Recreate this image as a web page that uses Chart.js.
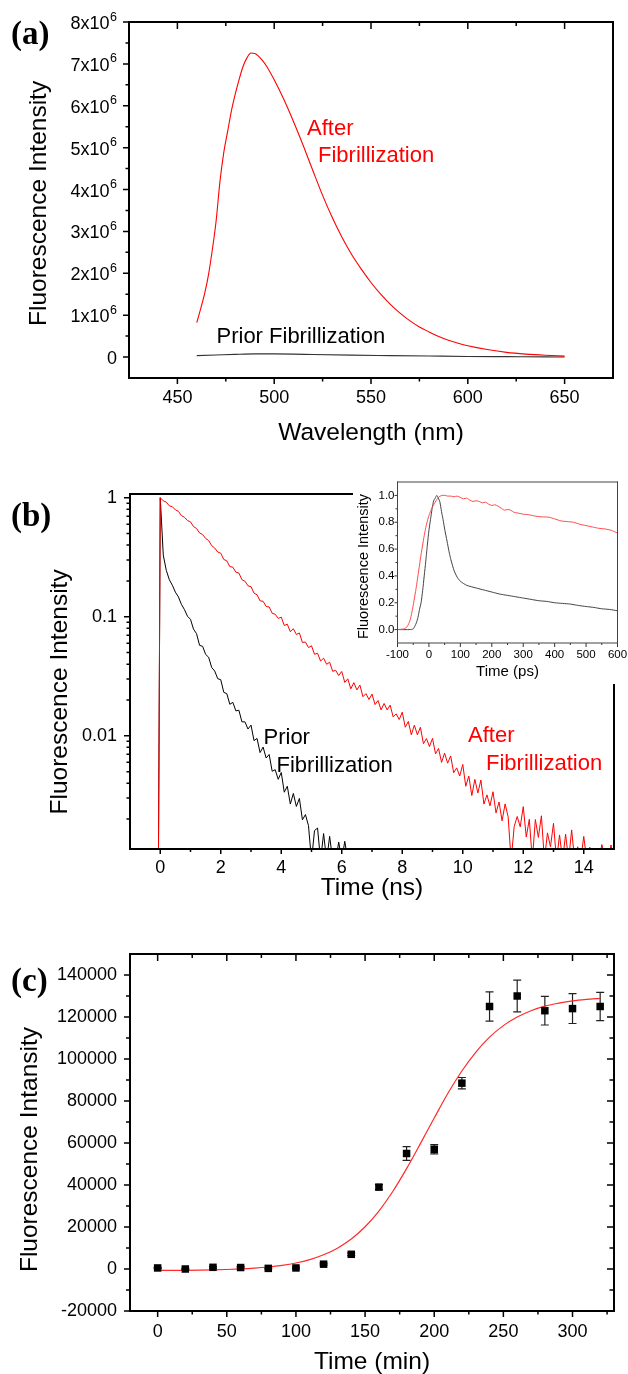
<!DOCTYPE html>
<html><head><meta charset="utf-8">
<script src="https://cdn.jsdelivr.net/npm/chart.js"></script>
<style>
html,body{margin:0;padding:0;background:#fff;width:628px;height:1374px;overflow:hidden;}
canvas{position:absolute;}
</style></head><body>
<canvas id="ca" width="628" height="460" style="left:0;top:0"></canvas>
<canvas id="cb" width="628" height="430" style="left:0;top:470px"></canvas>
<canvas id="ci" width="278" height="212" style="left:350px;top:474px"></canvas>
<canvas id="cc" width="628" height="444" style="left:0;top:930px"></canvas>
<script>
// ---------- (a) emission spectra ----------
const spectrumAfterWavelength = [460,462,464,466,468,470,472,474,476,478,480,482,484,486,488,490,492,494,496,500,505,510,515,520,525,530,535,540,545,550,555,560,565,570,575,580,585,590,595,600,610,620,630,640,650];
const spectrumAfterIntensity = [820000,1150000,1500000,1950000,2550000,3250000,4200000,4900000,5400000,5900000,6300000,6650000,6950000,7150000,7260000,7250000,7180000,7080000,6950000,6620000,6150000,5620000,5050000,4450000,3860000,3330000,2860000,2450000,2100000,1780000,1500000,1260000,1050000,870000,720000,600000,490000,400000,330000,270000,180000,112000,70000,42000,22000];
const spectrumPriorWavelength = [460,470,480,490,500,510,520,540,560,580,600,620,640,650];
const spectrumPriorIntensity = [35000,50000,65000,75000,75000,70000,60000,45000,35000,25000,15000,10000,5000,0];
const spectrumWavelengthTicks = [450,500,550,600,650];
const spectrumIntensityTicks = [0,1000000,2000000,3000000,4000000,5000000,6000000,7000000,8000000];
const spectrumExponent = 6;

// ---------- (b) fluorescence decays ----------
const decayTime = [-0.06,0,0.1,0.2,0.3,0.4,0.5,0.6,0.7,0.8,0.9,1,1.1,1.2,1.3,1.4,1.5,1.6,1.7,1.8,1.9,2,2.1,2.2,2.3,2.4,2.5,2.6,2.7,2.8,2.9,3,3.1,3.2,3.3,3.4,3.5,3.6,3.7,3.8,3.9,4,4.1,4.2,4.3,4.4,4.5,4.6,4.7,4.8,4.9,5,5.1,5.2,5.3,5.4,5.5,5.6,5.7,5.8,5.9,6,6.1,6.2,6.3,6.4,6.5,6.6,6.7,6.8,6.9,7,7.1,7.2,7.3,7.4,7.5,7.6,7.7,7.8,7.9,8,8.1,8.2,8.3,8.4,8.5,8.6,8.7,8.8,8.9,9,9.1,9.2,9.3,9.4,9.5,9.6,9.7,9.8,9.9,10,10.1,10.2,10.3,10.4,10.5,10.6,10.7,10.8,10.9,11,11.1,11.2,11.3,11.4,11.5,11.6,11.7,11.8,11.9,12,12.1,12.2,12.3,12.4,12.5,12.6,12.7,12.8,12.9,13,13.1,13.2,13.3,13.4,13.5,13.6,13.7,13.8,13.9,14,14.1,14.2,14.3,14.4,14.5,14.6,14.7,14.8,14.9,15];
const afterDecayIntensity = [0.0009,1.0,
0.942,0.918,0.855,0.841,0.791,0.769,0.708,0.686,0.643,0.627,
0.573,0.551,0.506,0.491,0.455,0.437,0.396,0.378,0.350,0.342,
0.303,0.295,0.264,0.261,0.237,0.233,0.205,0.199,0.182,0.179,
0.158,0.153,0.136,0.135,0.122,0.121,0.107,0.105,0.0969,0.0993,
0.0845,0.0867,0.0748,0.0794,0.0710,0.0731,0.0608,0.0614,0.0551,0.0571,
0.0484,0.0494,0.0425,0.0449,0.0399,0.0415,0.0348,0.0355,0.0321,0.0347,
0.0281,0.0301,0.0248,0.0280,0.0243,0.0267,0.0213,0.0226,0.0202,0.0224,
0.0183,0.0198,0.0165,0.0187,0.0165,0.0181,0.0144,0.0153,0.0137,0.0158,
0.0118,0.0132,0.0102,0.0123,0.0102,0.0118,0.00859,0.00948,0.00812,0.00952,
0.00705,0.00783,0.00598,0.00716,0.00589,0.00678,0.00490,0.00538,0.00459,0.00575,
0.00377,0.00459,0.00315,0.00431,0.00331,0.00425,0.00267,0.00319,0.00258,0.00339,
0.00225,0.00278,0.00193,0.00268,0.00209,0.0009,0.00173,0.00210,0.00172,0.00254,
0.00141,0.00199,0.0009,0.00198,0.00140,0.00213,0.0009,0.00153,0.00117,0.00184,
0.0009,0.00147,0.0009,0.00149,0.0009,0.00162,0.0009,0.00117,0.0009,0.00143,
0.0009,0.00116,0.0009,0.0009,0.0009,0.00122,0.0009,0.0009,0.00121,0.0009];
const priorDecayIntensity = [0.0009,1.0,
0.33,0.245,0.205,0.184,0.161,0.147,0.127,0.115,0.101,0.0951,
0.0787,0.0721,0.0575,0.0565,0.0483,0.0457,0.0375,0.0350,0.0302,0.0296,
0.0232,0.0226,0.0184,0.0191,0.0162,0.0164,0.0131,0.0131,0.0114,0.0123,
0.00911,0.00951,0.00723,0.00804,0.00651,0.00697,0.00504,0.00519,0.00431,0.00492,
0.00336,0.00377,0.00267,0.00328,0.00255,0.00298,0.00197,0.00218,0.00176,0.0009,
0.0016,0.00168,0.0009,0.00151,0.0009,0.00143,0.0009,0.0009,0.00128,0.0009,
0.0013,0.0009];
const decayTimeTicks = [0,2,4,6,8,10,12,14];
const decayIntensityTicks = [0.01,0.1,1];

// ---------- (b) inset ----------
const insetPriorTime = [-100,-60,-50,-45,-40,-35,-30,-25,-20,-15,-10,-5,0,5,10,15,20,25,30,35,40,45,50,55,60,65,70,80,90,100,120,150,175,200,225,250,275,300,325,350,375,400,425,450,475,500,525,550,575,600];
const insetPriorIntensity = [0,0,0.005,0.025,0.05,0.09,0.15,0.2,0.29,0.4,0.51,0.63,0.74,0.82,0.9,0.96,0.98,1.0,0.98,0.95,0.88,0.82,0.75,0.69,0.63,0.57,0.52,0.44,0.39,0.36,0.33,0.31,0.295,0.28,0.265,0.255,0.245,0.235,0.225,0.215,0.21,0.2,0.195,0.19,0.18,0.172,0.165,0.155,0.15,0.14];
const insetAfterTime = [-100,-80,-70,-65,-60,-55,-50,-45,-40,-35,-30,-25,-20,-15,-10,-5,0,5,10,15,20,25,30,40,50,60,70,80,90,100,110,120,130,140,150,160,170,180,190,200,210,220,230,240,250,260,270,280,290,300,320,340,360,380,400,420,440,460,480,500,520,540,560,580,600];
const insetAfterIntensity = [0,0.005,0.02,0.04,0.07,0.12,0.18,0.25,0.32,0.4,0.48,0.56,0.63,0.7,0.76,0.81,0.85,0.88,0.91,0.93,0.95,0.97,0.985,1.0,1.0,0.995,0.995,0.99,0.995,0.985,0.975,0.98,0.965,0.955,0.96,0.955,0.945,0.95,0.935,0.925,0.93,0.92,0.905,0.89,0.895,0.89,0.875,0.87,0.865,0.86,0.855,0.845,0.84,0.838,0.825,0.81,0.805,0.8,0.785,0.775,0.765,0.755,0.75,0.74,0.72];
const insetTimeTicks = [-100,0,100,200,300,400,500,600];
const insetIntensityTicks = [0,0.2,0.4,0.6,0.8,1.0];

// ---------- (c) kinetics ----------
const kineticsTime = [0,20,40,60,80,100,120,140,160,180,200,220,240,260,280,300,320];
const kineticsIntensity = [500,0,800,700,300,500,2300,7000,39000,55000,57000,88500,125000,130000,123000,124000,125000];
const kineticsError = [300,300,400,400,300,400,500,600,1200,3300,2200,2700,7000,7600,6800,7100,6700];
const fitTime = [0,10,20,30,40,50,60,70,80,90,100,110,120,130,140,150,160,170,180,190,200,210,220,230,240,250,260,270,280,290,300,310,320];
const fitIntensity = [-700,-670,-620,-530,-410,-230,30,410,960,1740,2860,4470,6760,9930,14260,20130,27600,36900,47800,59700,71900,83800,94300,103200,110400,115900,120000,123000,125200,126600,127700,128400,128900];
const kineticsTimeTicks = [0,50,100,150,200,250,300];
const kineticsIntensityTicks = [-20000,0,20000,40000,60000,80000,100000,120000,140000];

// ---------- helpers ----------
const SANS = '"Liberation Sans", Arial, Helvetica, sans-serif';
const SERIF = '"Liberation Serif", "Times New Roman", serif';
Chart.defaults.font.family = SANS;
Chart.defaults.color = '#000';

function seq(a, b, s) { const r = []; for (let v = a; v <= b + s * 1e-6; v += s) r.push(Math.round(v * 1e6) / 1e6); return r; }
function pts(xs, ys) { return ys.map((y, i) => ({x: xs[i], y})); }

function axis(o) {
  return {
    type: o.type || 'linear', position: o.position, min: o.min, max: o.max,
    afterBuildTicks: s => { s.ticks = o.ticks.map(v => ({value: v})); },
    afterFit: s => {
      if (o.position === 'left') s.width = o.size; else s.height = o.size;
      s.paddingLeft = 0; s.paddingRight = 0; s.paddingTop = 0; s.paddingBottom = 0;
    },
    grid: {display: false, drawTicks: true, tickLength: o.tickLength},
    border: {display: false},
    ticks: {display: o.showLabels !== false, font: {size: o.fontSize}, padding: o.tickPad,
            autoSkip: false, maxRotation: 0, minRotation: 0, color: '#000', callback: o.format || (v => String(v))},
    title: {display: true, text: o.title, color: '#000', font: {size: o.titleSize, lineHeight: 1},
            padding: o.position === 'left' ? {top: o.titlePad, bottom: 0} : {top: 0, bottom: o.titlePad}}
  };
}

const decor = {
  id: 'decor',
  beforeDatasetsDraw(chart, args, o) {
    const eb = o.errorBars; if (!eb) return;
    const ctx = chart.ctx, xs = chart.scales.x, ys = chart.scales.y;
    ctx.save(); ctx.strokeStyle = eb.color; ctx.lineWidth = eb.width; ctx.beginPath();
    eb.x.forEach((xv, i) => {
      const px = xs.getPixelForValue(xv);
      const t = ys.getPixelForValue(eb.y[i] + eb.err[i]);
      const b = ys.getPixelForValue(eb.y[i] - eb.err[i]);
      ctx.moveTo(px, t); ctx.lineTo(px, b);
      ctx.moveTo(px - eb.cap / 2, t); ctx.lineTo(px + eb.cap / 2, t);
      ctx.moveTo(px - eb.cap / 2, b); ctx.lineTo(px + eb.cap / 2, b);
    });
    ctx.stroke(); ctx.restore();
  },
  afterDraw(chart, args, o) {
    const ctx = chart.ctx, a = chart.chartArea;
    ctx.save();
    ctx.strokeStyle = o.tickColor || '#000';
    for (const t of (o.marks || [])) {
      const s = chart.scales[t.scale];
      ctx.lineWidth = t.width || 1.5;
      ctx.beginPath();
      for (const v of t.values) {
        const p = s.getPixelForValue(v);
        if (t.edge === 'bottom') { ctx.moveTo(p, a.bottom); ctx.lineTo(p, a.bottom + t.len); }
        else if (t.edge === 'top') { ctx.moveTo(p, a.top); ctx.lineTo(p, a.top - t.len); }
        else if (t.edge === 'left') { ctx.moveTo(a.left, p); ctx.lineTo(a.left - t.len, p); }
        else { ctx.moveTo(a.right, p); ctx.lineTo(a.right + t.len, p); }
      }
      ctx.stroke();
    }
    if (o.frame) {
      const f = o.frame, h = f.width / 2;
      ctx.strokeStyle = f.color; ctx.lineWidth = f.width; ctx.beginPath();
      const L = f.left, R = f.right, T = f.top, B = f.bottom;
      if (L) { const r = L === true ? [a.top, a.bottom] : L; ctx.moveTo(a.left, r[0] - h); ctx.lineTo(a.left, r[1] + h); }
      if (R) { const r = R === true ? [a.top, a.bottom] : R; ctx.moveTo(a.right, r[0] - h); ctx.lineTo(a.right, r[1] + h); }
      if (T) { const r = T === true ? [a.left, a.right] : T; ctx.moveTo(r[0] - h, a.top); ctx.lineTo(r[1] + h, a.top); }
      if (B) { const r = B === true ? [a.left, a.right] : B; ctx.moveTo(r[0] - h, a.bottom); ctx.lineTo(r[1] + h, a.bottom); }
      ctx.stroke();
    }
    if (o.sci) {
      const sc = o.sci, s = chart.scales[sc.scale];
      ctx.fillStyle = '#000'; ctx.textAlign = 'right'; ctx.textBaseline = 'alphabetic';
      const main = sc.size + 'px ' + SANS, sup = sc.supSize + 'px ' + SANS;
      for (const v of sc.values) {
        const p = s.getPixelForValue(v);
        if (v === 0) { ctx.font = main; ctx.fillText('0', sc.right, p + sc.dy); continue; }
        ctx.font = sup; const e = String(sc.exp); const w = ctx.measureText(e).width;
        ctx.fillText(e, sc.right, p + sc.supDy);
        ctx.font = main; ctx.fillText((v / Math.pow(10, sc.exp)) + 'x10', sc.right - w - 0.5, p + sc.dy);
      }
    }
    for (const n of (o.notes || [])) {
      ctx.font = n.font; ctx.fillStyle = n.color || '#000';
      ctx.textAlign = 'left'; ctx.textBaseline = 'alphabetic';
      ctx.fillText(n.text, n.x, n.y);
    }
    ctx.restore();
  }
};

const common = {
  responsive: false, maintainAspectRatio: false, animation: false, devicePixelRatio: 1, events: []
};
const noteFont = '22px ' + SANS;
const labelFont = 'bold 33px ' + SERIF;

// ---------- chart (a) ----------
new Chart(document.getElementById('ca'), {
  type: 'line',
  data: { datasets: [
    { data: pts(spectrumAfterWavelength, spectrumAfterIntensity), borderColor: '#ff0000', borderWidth: 1.1,
      pointRadius: 0, cubicInterpolationMode: 'monotone', fill: false },
    { data: pts(spectrumPriorWavelength, spectrumPriorIntensity), borderColor: '#333333', borderWidth: 1.1,
      pointRadius: 0, cubicInterpolationMode: 'monotone', fill: false }
  ]},
  options: Object.assign({}, common, {
    layout: {padding: {left: 0, top: 22, right: 15, bottom: 0}},
    scales: {
      x: axis({position: 'bottom', min: 425, max: 675, ticks: spectrumWavelengthTicks, size: 82, tickLength: 6,
               fontSize: 18, tickPad: 3.7, title: 'Wavelength (nm)', titleSize: 24.5, titlePad: 14.5}),
      y: axis({position: 'left', min: -500000, max: 8000000, ticks: spectrumIntensityTicks, size: 129, tickLength: 6,
               fontSize: 18, tickPad: 3, showLabels: false, title: 'Fluorescence Intensity ', titleSize: 24.5, titlePad: 26.75})
    },
    plugins: {
      legend: {display: false}, tooltip: {enabled: false},
      decor: {
        marks: [
          {scale: 'y', edge: 'left', values: spectrumIntensityTicks, len: 6},
          {scale: 'y', edge: 'left', values: seq(500000, 7500000, 1000000), len: 3.5},
          {scale: 'x', edge: 'bottom', values: spectrumWavelengthTicks, len: 6},
          {scale: 'x', edge: 'bottom', values: [475, 525, 575, 625], len: 3.5},
          {scale: 'x', edge: 'top', values: spectrumWavelengthTicks, len: -7},
          {scale: 'x', edge: 'top', values: [475, 525, 575, 625], len: -4}
        ],
        frame: {width: 2, color: '#000', left: true, right: true, top: true, bottom: true},
        sci: {scale: 'y', values: spectrumIntensityTicks, exp: spectrumExponent, right: 117, size: 18, supSize: 12.5, dy: 7, supDy: -1.5},
        notes: [
          {text: '(a)', x: 11, y: 44, font: labelFont},
          {text: 'After', x: 307, y: 135, font: noteFont, color: '#ff0000'},
          {text: 'Fibrillization', x: 318, y: 162, font: noteFont, color: '#ff0000'},
          {text: 'Prior Fibrillization', x: 216.5, y: 342.5, font: noteFont, color: '#000'}
        ]
      }
    }
  }),
  plugins: [decor]
});

// ---------- chart (b) ----------
new Chart(document.getElementById('cb'), {
  type: 'line',
  data: { datasets: [
    { data: pts(decayTime, afterDecayIntensity), borderColor: '#ff0000', borderWidth: 1, pointRadius: 0, tension: 0, clip: 0 },
    { data: pts(decayTime, priorDecayIntensity), borderColor: '#000000', borderWidth: 1, pointRadius: 0, tension: 0, clip: 0 }
  ]},
  options: Object.assign({}, common, {
    layout: {padding: {left: 0, top: 24, right: 14, bottom: 0}},
    scales: {
      x: axis({position: 'bottom', min: -1, max: 15, ticks: decayTimeTicks, size: 51, tickLength: 5,
               fontSize: 18, tickPad: 3.5, title: 'Time (ns)', titleSize: 24.5, titlePad: 0}),
      y: axis({type: 'logarithmic', position: 'left', min: 0.00112, max: 1.075, ticks: decayIntensityTicks, size: 130, tickLength: 6,
               fontSize: 18, tickPad: 7, title: 'Fluorescence Intensity      ', titleSize: 24.5, titlePad: 47.75})
    },
    plugins: {
      legend: {display: false}, tooltip: {enabled: false},
      decor: {
        marks: [
          {scale: 'y', edge: 'left', values: decayIntensityTicks, len: 6},
          {scale: 'y', edge: 'left', values: [0.002,0.003,0.004,0.005,0.006,0.007,0.008,0.009,0.02,0.03,0.04,0.05,0.06,0.07,0.08,0.09,0.2,0.3,0.4,0.5,0.6,0.7,0.8,0.9], len: 3.5},
          {scale: 'x', edge: 'bottom', values: decayTimeTicks, len: 5},
          {scale: 'x', edge: 'bottom', values: [1,3,5,7,9,11,13], len: 3}
        ],
        frame: {width: 2, color: '#000', left: true, bottom: true, top: [130, 352], right: [215, 379]},
        notes: [
          {text: '(b)', x: 11, y: 56, font: labelFont},
          {text: 'Prior', x: 263.5, y: 274, font: noteFont, color: '#000'},
          {text: 'Fibrillization', x: 276.5, y: 301.5, font: noteFont, color: '#000'},
          {text: 'After', x: 468, y: 272, font: noteFont, color: '#ff0000'},
          {text: 'Fibrillization', x: 486, y: 300, font: noteFont, color: '#ff0000'}
        ]
      }
    }
  }),
  plugins: [decor]
});

// ---------- inset of (b) ----------
new Chart(document.getElementById('ci'), {
  type: 'line',
  data: { datasets: [
    { data: pts(insetAfterTime, insetAfterIntensity), borderColor: '#ff4a4a', borderWidth: 1, pointRadius: 0, tension: 0.2, clip: 0 },
    { data: pts(insetPriorTime, insetPriorIntensity), borderColor: '#444444', borderWidth: 1, pointRadius: 0, tension: 0.2, clip: 0 }
  ]},
  options: Object.assign({}, common, {
    layout: {padding: {left: 0, top: 8, right: 10.5, bottom: 0}},
    scales: {
      x: axis({position: 'bottom', min: -100, max: 600, ticks: insetTimeTicks, size: 43, tickLength: 4,
               fontSize: 11.5, tickPad: 1.1, title: 'Time (ps)', titleSize: 15, titlePad: 6.8}),
      y: axis({position: 'left', min: -0.1, max: 1.1, ticks: insetIntensityTicks, size: 47.5, tickLength: 3,
               fontSize: 11.5, tickPad: 0, format: v => v.toFixed(1),
               title: 'Fluorescence Intensity  ', titleSize: 14.5, titlePad: 6.25})
    },
    plugins: {
      legend: {display: false}, tooltip: {enabled: false},
      decor: {
        tickColor: '#333',
        marks: [
          {scale: 'y', edge: 'left', values: insetIntensityTicks, len: 3, width: 1},
          {scale: 'y', edge: 'left', values: [0.1, 0.3, 0.5, 0.7, 0.9], len: 2, width: 1},
          {scale: 'x', edge: 'bottom', values: insetTimeTicks, len: 4, width: 1},
          {scale: 'x', edge: 'bottom', values: [-50, 50, 150, 250, 350, 450, 550], len: 2, width: 1}
        ],
        frame: {width: 1, color: '#444', left: true, right: true, top: true, bottom: true}
      }
    }
  }),
  plugins: [decor]
});

// ---------- chart (c) ----------
new Chart(document.getElementById('cc'), {
  type: 'line',
  data: { datasets: [
    { data: pts(kineticsTime, kineticsIntensity), showLine: false, pointStyle: 'rect', pointRadius: 5.3,
      pointBackgroundColor: '#000', pointBorderWidth: 0, borderColor: '#000' },
    { data: pts(fitTime, fitIntensity), borderColor: '#ff2a2a', borderWidth: 1.2, pointRadius: 0,
      cubicInterpolationMode: 'monotone', fill: false }
  ]},
  options: Object.assign({}, common, {
    layout: {padding: {left: 0, top: 24, right: 14, bottom: 0}},
    scales: {
      x: axis({position: 'bottom', min: -20, max: 330, ticks: kineticsTimeTicks, size: 63, tickLength: 6,
               fontSize: 18, tickPad: 3.9, title: 'Time (min)', titleSize: 24.5, titlePad: 0}),
      y: axis({position: 'left', min: -20000, max: 150000, ticks: kineticsIntensityTicks, size: 130, tickLength: 6,
               fontSize: 18, tickPad: 7, title: 'Fluorescence Intansity     ', titleSize: 24.5, titlePad: 17.75})
    },
    plugins: {
      legend: {display: false}, tooltip: {enabled: false},
      decor: {
        errorBars: {x: kineticsTime, y: kineticsIntensity, err: kineticsError, cap: 8, color: '#222', width: 1.2},
        marks: [
          {scale: 'y', edge: 'left', values: kineticsIntensityTicks, len: 6},
          {scale: 'y', edge: 'left', values: seq(-10000, 130000, 20000), len: 4},
          {scale: 'y', edge: 'right', values: kineticsIntensityTicks, len: -7},
          {scale: 'y', edge: 'right', values: seq(-10000, 130000, 20000), len: -4.5},
          {scale: 'x', edge: 'bottom', values: kineticsTimeTicks, len: 6},
          {scale: 'x', edge: 'bottom', values: seq(25, 325, 50), len: 3.5},
          {scale: 'x', edge: 'top', values: kineticsTimeTicks, len: -7},
          {scale: 'x', edge: 'top', values: seq(25, 325, 50), len: -4}
        ],
        frame: {width: 2, color: '#000', left: true, right: true, top: true, bottom: true},
        notes: [
          {text: '(c)', x: 11, y: 61, font: labelFont}
        ]
      }
    }
  }),
  plugins: [decor]
});
</script>
</body></html>
